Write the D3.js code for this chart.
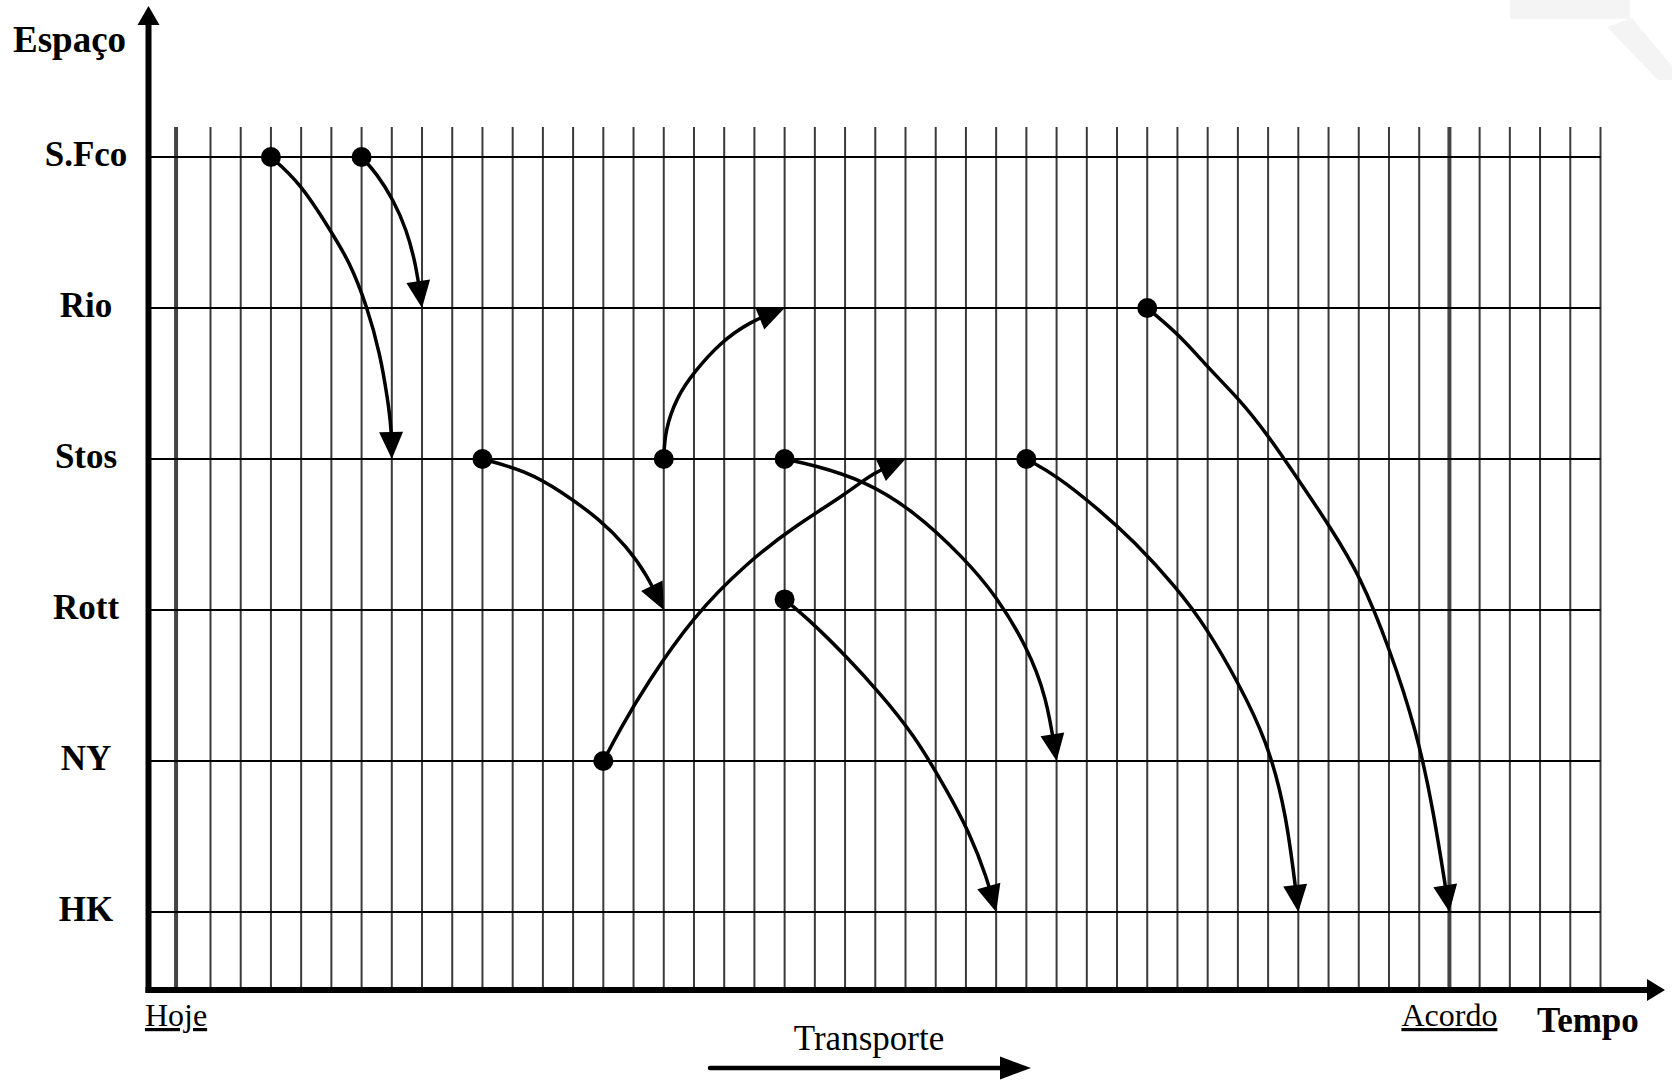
<!DOCTYPE html>
<html><head><meta charset="utf-8">
<script src="https://cdn.jsdelivr.net/npm/d3@7"></script>
<style>html,body{margin:0;padding:0;background:#fff;} svg{display:block}</style>
</head><body>
<svg id="chart" width="1672" height="1082"></svg>
<script>
// ---- data ----
const places = ["S.Fco", "Rio", "Stos", "Rott", "NY", "HK"];
const timeSteps = d3.range(1, 48);            // vertical grid lines (time periods)
const milestoneLabels = ["Hoje", "Acordo"];
const milestoneTimes = [-0.14, 42];
const yTitle = "Espaço";
const xTitle = "Tempo";
const flowLabel = "Transporte";
// each arrow: waypoints [time, place index] (first = dot, last = tip)
const arrow1 = [[3,0],[3.96,0.17],[4.95,0.48],[5.62,0.70],[6.18,0.99],[6.61,1.30],[6.87,1.61],[6.99,1.81],[7,2]];
const arrow2 = [[6,0],[6.5,0.11],[7.04,0.28],[7.49,0.48],[7.82,0.73],[8,1]];
const arrow3 = [[10,2],[11.46,2.08],[12.57,2.21],[13.89,2.40],[14.77,2.58],[15.43,2.76],[16,3]];
const arrow4 = [[16,2],[16.04,1.81],[16.43,1.59],[16.98,1.43],[17.86,1.23],[18.85,1.09],[20,1]];
const arrow5 = [[14,4],[14.55,3.79],[15.43,3.49],[16.98,3.04],[18.74,2.69],[20.29,2.45],[22.05,2.23],[22.93,2.09],[24,2]];
const arrow6 = [[20,2],[20.95,2.04],[22.6,2.14],[24.26,2.34],[25.91,2.65],[27.02,2.91],[28.01,3.24],[28.67,3.57],[29,4]];
const arrow7 = [[20,2.93],[20.95,3.09],[22.05,3.31],[23.15,3.55],[24.26,3.82],[25.36,4.19],[26.13,4.48],[26.69,4.77],[27,5]];
const arrow8 = [[28,2],[29,2.11],[30.43,2.34],[31.54,2.54],[32.97,2.85],[33.97,3.12],[35.01,3.48],[35.95,3.86],[36.61,4.34],[37,5]];
const arrow9 = [[32,1],[33.08,1.18],[34.08,1.41],[35.07,1.61],[35.95,1.83],[37.05,2.15],[38.05,2.45],[39.04,2.77],[40.03,3.26],[40.91,3.80],[41.46,4.31],[42,5]];
const arrows = [arrow1, arrow2, arrow3, arrow4, arrow5, arrow6, arrow7, arrow8, arrow9];

// ---- layout ----
const svg = d3.select("#chart");
const x = d3.scaleLinear().domain([1, 47]).range([210.5, 1600.5]);
const y = d3.scaleLinear().domain([0, places.length - 1]).range([157, 912]);
const axisX = 148.5, axisY = 990, gridTop = 127;
const serif = "'Liberation Serif','Times New Roman',serif";

// faint watermark top-right
svg.append("path").attr("d", "M1510,0 L1630,0 L1630,19 L1510,19 Z").attr("fill", "#f4f4f4");
svg.append("path").attr("d", "M1607,27 L1632,18 L1672,66 L1672,80 L1658,80 Z").attr("fill", "#f4f4f4");

// grid
const g = svg.append("g");
g.selectAll("line.v").data(timeSteps).join("line")
  .attr("x1", d => x(d)).attr("x2", d => x(d))
  .attr("y1", gridTop).attr("y2", axisY)
  .attr("stroke", "#3a3a3a").attr("stroke-width", 2);
g.selectAll("line.m").data(milestoneTimes).join("line")
  .attr("x1", d => x(d)).attr("x2", d => x(d))
  .attr("y1", gridTop).attr("y2", axisY)
  .attr("stroke", "#444").attr("stroke-width", 4);
g.selectAll("line.h").data(places).join("line")
  .attr("x1", axisX).attr("x2", x(47))
  .attr("y1", (d, i) => y(i)).attr("y2", (d, i) => y(i))
  .attr("stroke", "#000").attr("stroke-width", 2);

// axes
svg.append("line").attr("x1", axisX).attr("x2", axisX).attr("y1", axisY + 3).attr("y2", 24)
  .attr("stroke", "#000").attr("stroke-width", 6);
svg.append("path").attr("d", `M${axisX-11},25 L${axisX+11},25 L${axisX},6 Z`).attr("fill", "#000");
svg.append("line").attr("x1", axisX - 3).attr("x2", 1648).attr("y1", axisY).attr("y2", axisY)
  .attr("stroke", "#000").attr("stroke-width", 6);
svg.append("path").attr("d", `M1647,${axisY-11} L1647,${axisY+11} L1665,${axisY} Z`).attr("fill", "#000");

// place labels
svg.selectAll("text.place").data(places).join("text")
  .attr("x", 86).attr("y", (d, i) => y(i) + 9)
  .attr("text-anchor", "middle")
  .style("font-family", serif).style("font-weight", "bold").style("font-size", "35px")
  .text(d => d);

svg.append("text").attr("x", 13).attr("y", 52)
  .style("font-family", serif).style("font-weight", "bold").style("font-size", "37px").text(yTitle);
svg.append("text").attr("x", 1537).attr("y", 1032)
  .style("font-family", serif).style("font-weight", "bold").style("font-size", "35px").text(xTitle);

svg.selectAll("text.ms").data(milestoneLabels).join("text")
  .attr("x", (d, i) => x(milestoneTimes[i])).attr("y", 1026)
  .attr("text-anchor", "middle")
  .style("font-family", serif).style("font-size", "32px")
  .style("text-decoration", "underline")
  .text(d => d);

svg.append("text").attr("x", 869).attr("y", 1050).attr("text-anchor", "middle")
  .style("font-family", serif).style("font-size", "35px").text(flowLabel);
svg.append("line").attr("x1", 710).attr("x2", 1002).attr("y1", 1068).attr("y2", 1068)
  .attr("stroke", "#000").attr("stroke-width", 4.5).attr("stroke-linecap", "round");
svg.append("path").attr("d", "M1000,1056.5 L1000,1079.5 L1031,1068 Z").attr("fill", "#000");

// arrows
const line = d3.line().x(d => x(d[0])).y(d => y(d[1])).curve(d3.curveBasis);
const ag = svg.append("g");
arrows.forEach(pts => {
  const p = ag.append("path").attr("d", line(pts)).attr("fill", "none")
    .attr("stroke", "#000").attr("stroke-width", 3.5);
  const node = p.node();
  const L = node.getTotalLength();
  p.attr("stroke-dasharray", `${L - 16} ${L + 10}`);
  const tip = node.getPointAtLength(L);
  const base = node.getPointAtLength(L - 27);
  const dx = tip.x - base.x, dy = tip.y - base.y, len = Math.hypot(dx, dy);
  const ux = dx / len, uy = dy / len;
  const bx = tip.x - ux * 27, by = tip.y - uy * 27;
  const hw = 12;
  ag.append("path")
    .attr("d", `M${tip.x},${tip.y} L${bx - uy * hw},${by + ux * hw} L${bx + uy * hw},${by - ux * hw} Z`)
    .attr("fill", "#000");
  ag.append("circle").attr("cx", x(pts[0][0])).attr("cy", y(pts[0][1])).attr("r", 10).attr("fill", "#000");
});
</script>
</body></html>
